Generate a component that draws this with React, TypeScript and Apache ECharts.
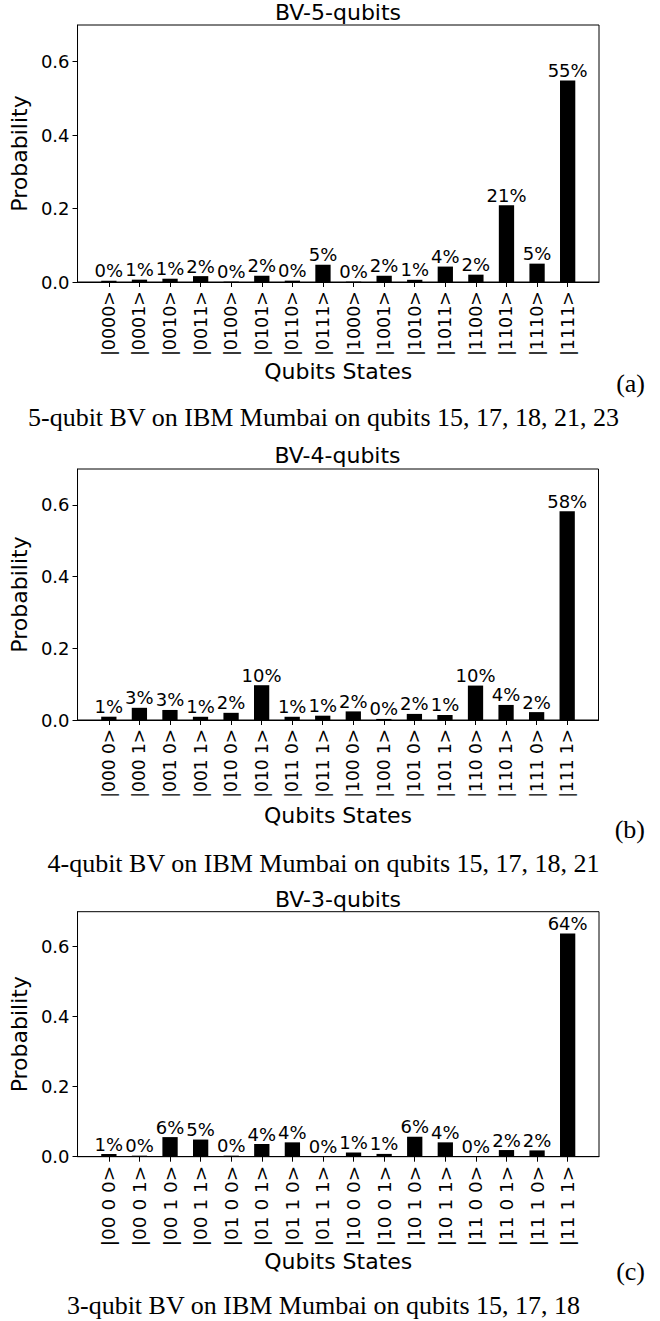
import React, { useEffect, useRef } from 'react';
import * as echarts from 'echarts';

// ---- data ----
const states5 = ['|0000>', '|0001>', '|0010>', '|0011>', '|0100>', '|0101>', '|0110>', '|0111>', '|1000>', '|1001>', '|1010>', '|1011>', '|1100>', '|1101>', '|1110>', '|1111>'];
const probs5 = [0.0037, 0.0064, 0.009, 0.016, 0.001, 0.017, 0.0037, 0.047, 0.001, 0.017, 0.006, 0.042, 0.02, 0.209, 0.05, 0.549];

const states4 = ['|000 0>', '|000 1>', '|001 0>', '|001 1>', '|010 0>', '|010 1>', '|011 0>', '|011 1>', '|100 0>', '|100 1>', '|101 0>', '|101 1>', '|110 0>', '|110 1>', '|111 0>', '|111 1>'];
const probs4 = [0.0092, 0.034, 0.028, 0.009, 0.02, 0.097, 0.009, 0.012, 0.024, 0.003, 0.017, 0.014, 0.096, 0.042, 0.022, 0.582];

const states3 = ['|00 0 0>', '|00 0 1>', '|00 1 0>', '|00 1 1>', '|01 0 0>', '|01 0 1>', '|01 1 0>', '|01 1 1>', '|10 0 0>', '|10 0 1>', '|10 1 0>', '|10 1 1>', '|11 0 0>', '|11 0 1>', '|11 1 0>', '|11 1 1>'];
const probs3 = [0.0077, 0.003, 0.056, 0.049, 0.003, 0.036, 0.041, 0.001, 0.012, 0.008, 0.057, 0.041, 0.001, 0.019, 0.018, 0.638];

const yTicks = [0, 0.2, 0.4, 0.6];
const titles = ['BV-5-qubits', 'BV-4-qubits', 'BV-3-qubits'];
const captions = [
  '5-qubit BV on IBM Mumbai on qubits 15, 17, 18, 21, 23',
  '4-qubit BV on IBM Mumbai on qubits 15, 17, 18, 21',
  '3-qubit BV on IBM Mumbai on qubits 15, 17, 18',
];
const tags = ['(a)', '(b)', '(c)'];
const xName = 'Qubits States';
const yName = 'Probability';

// ---- layout ----
const SANS = 'DejaVu Sans';
const SERIF = 'Liberation Serif';
const layouts = [
  { states: states5, probs: probs5, left: 77, top: 25, height: 257, labelSize: 17.5, nameGap: 78, titleTop: 1, captionY: 417.7, tagY: 383.7 },
  { states: states4, probs: probs4, left: 76.5, top: 469, height: 251, labelSize: 17, nameGap: 84.4, titleTop: 444.7, captionY: 863.4, tagY: 829 },
  { states: states3, probs: probs3, left: 77, top: 911.7, height: 245, labelSize: 18.5, nameGap: 90.7, titleTop: 888.7, captionY: 1305.1, tagY: 1271 },
];

export default function App() {
  const ref = useRef<HTMLDivElement>(null);
  useEffect(() => {
    if (!ref.current) return;
    const chart = echarts.init(ref.current, null, { renderer: 'svg' });
    const idx = Array.from({ length: 16 }, (_, k) => k);
    const grid: any[] = [];
    const xAxis: any[] = [];
    const yAxis: any[] = [];
    const series: any[] = [];
    const title: any[] = [];
    const graphic: any[] = [];
    layouts.forEach((p, i) => {
      grid.push({
        left: p.left, top: p.top, width: 522, height: p.height,
        show: true, borderColor: '#000', borderWidth: 1, backgroundColor: 'transparent',
      });
      xAxis.push({
        gridIndex: i, type: 'value', min: -1.025, max: 16.025,
        name: xName, nameLocation: 'middle', nameGap: p.nameGap,
        nameTextStyle: { fontSize: 22, color: '#000', fontFamily: SANS },
        axisLine: { show: true, onZero: false, lineStyle: { color: '#000', width: 1 } },
        axisTick: { show: true, length: 5, customValues: idx, lineStyle: { color: '#000' } },
        axisLabel: {
          customValues: idx, rotate: 90, margin: 9, fontSize: p.labelSize, color: '#000', fontFamily: SANS,
          formatter: (v: number) => p.states[Math.round(v)] ?? '',
        },
        splitLine: { show: false },
      });
      yAxis.push({
        gridIndex: i, type: 'value', min: 0, max: 0.7,
        name: yName, nameLocation: 'middle', nameGap: 40,
        nameTextStyle: { fontSize: 22, color: '#000', fontFamily: SANS },
        axisLine: { show: true, onZero: false, lineStyle: { color: '#000', width: 1 } },
        axisTick: { show: true, length: 5, customValues: yTicks, lineStyle: { color: '#000' } },
        axisLabel: {
          customValues: yTicks, margin: 8, fontSize: 18, color: '#000', fontFamily: SANS,
          formatter: (v: number) => v.toFixed(1),
        },
        splitLine: { show: false },
      });
      series.push({
        type: 'bar', xAxisIndex: i, yAxisIndex: i,
        data: p.probs.map((v, k) => [k, v]),
        barWidth: '50%',
        itemStyle: { color: '#000' },
        label: {
          show: true, position: 'top', distance: 1, fontSize: 18, color: '#000', fontFamily: SANS,
          formatter: (q: any) => Math.round(q.value[1] * 100) + '%',
        },
      });
      title.push({
        text: titles[i], left: p.left + 261, top: p.titleTop, textAlign: 'center', padding: 0,
        textStyle: { fontSize: 22, fontWeight: 'normal', color: '#000', fontFamily: SANS },
      });
      graphic.push({
        type: 'text', x: 323.5, y: p.captionY,
        style: {
          text: captions[i], fontSize: 26, fontFamily: SERIF, fill: '#000',
          align: 'center', verticalAlign: 'middle', textAlign: 'center', textVerticalAlign: 'middle',
        },
      });
      graphic.push({
        type: 'text', x: 645, y: p.tagY,
        style: {
          text: tags[i], fontSize: 26, fontFamily: SERIF, fill: '#000',
          align: 'right', verticalAlign: 'middle', textAlign: 'right', textVerticalAlign: 'middle',
        },
      });
    });
    chart.setOption({
      animation: false,
      backgroundColor: '#fff',
      title, grid, xAxis, yAxis, series, graphic,
    });
    return () => chart.dispose();
  }, []);
  return <div ref={ref} style={{ position: 'absolute', left: 0, top: 0, width: 660, height: 1321 }} />;
}
